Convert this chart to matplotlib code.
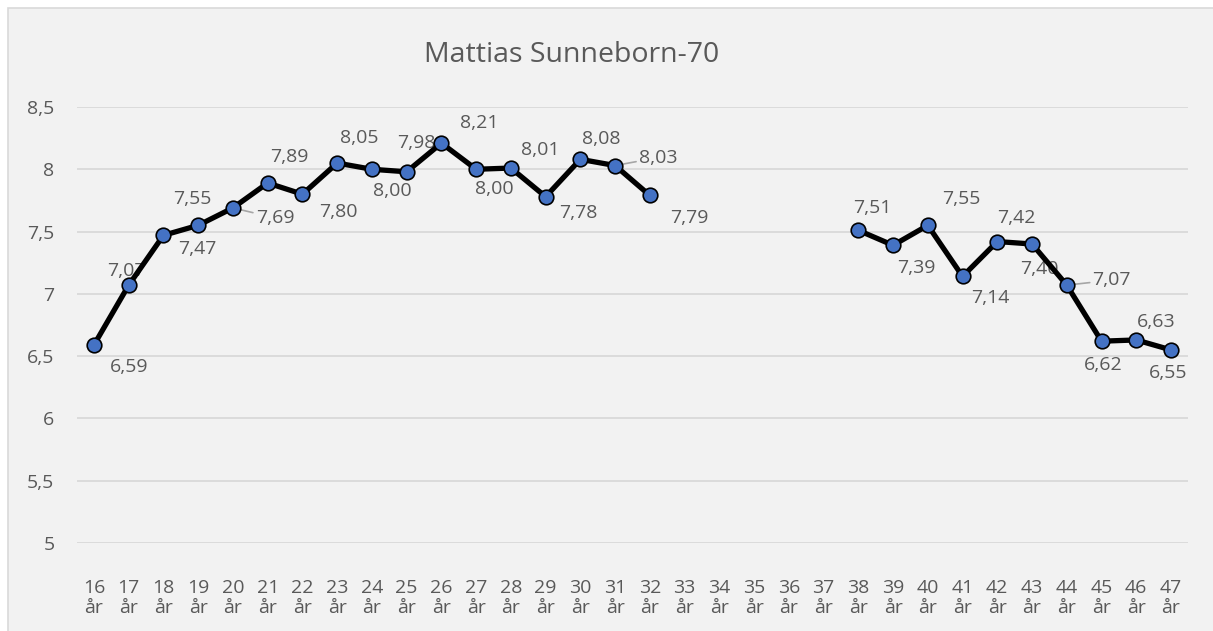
import numpy as np
import matplotlib.pyplot as plt
from matplotlib.patches import Rectangle

plt.rcParams['font.family'] = ['Open Sans', 'DejaVu Sans']

# data
ages = list(range(16, 48))
values = [6.59, 7.07, 7.47, 7.55, 7.69, 7.89, 7.80, 8.05, 8.00, 7.98, 8.21, 8.00, 8.01, 7.78, 8.08, 8.03, 7.79,
          None, None, None, None, None,
          7.51, 7.39, 7.55, 7.14, 7.42, 7.40, 7.07, 6.62, 6.63, 6.55]
tick_labels = [f"{a}\når" for a in ages]
yticks = [5, 5.5, 6, 6.5, 7, 7.5, 8, 8.5]
title = "Mattias Sunneborn-70"

# label offsets in pixels (dx, dy), None for missing points
label_offsets = [(35, -22), (-2, 14), (34, -14), (-6, 26), (42, -10), (22, 26), (36, -18), (22, 25),
                 (20, -22), (10, 29), (38, 20), (18, -20), (29, 18), (33, -16), (21, 20), (43, 8), (39, -23),
                 None, None, None, None, None,
                 (14, 22), (23, -23), (33, 26), (28, -22), (19, 24), (7, -25), (45, 5), (2, -24), (20, 18), (-3, -23)]
leaders = {20, 31, 44}

txt = '#595959'
fig = plt.figure(figsize=(12.13, 6.31), dpi=100, facecolor='white')
fig.patches.append(Rectangle((8 / 1213, -0.01), 1.0, 1 - 8 / 631 + 0.01, transform=fig.transFigure,
                             facecolor='#F2F2F2', edgecolor='#D9D9D9', lw=1.2, zorder=-1))

ax = fig.add_axes([76.6 / 1213, 1 - 543 / 631, 1111.8 / 1213, 436 / 631])
ax.set_facecolor('none')

x = np.arange(len(ages))
y = np.array([np.nan if v is None else v for v in values])
ax.plot(x, y, color='black', lw=3.8, marker='o', ms=10.5, mfc='#4472C4', mec='black', mew=1.2,
        zorder=3, solid_joinstyle='round')

for i, v in enumerate(values):
    if v is None:
        continue
    dx, dy = label_offsets[i]
    kw = {}
    if ages[i] in leaders:
        kw['arrowprops'] = dict(arrowstyle='-', color='#A6A6A6', lw=1.2, shrinkA=0, shrinkB=0)
    ax.annotate(f"{v:.2f}".replace('.', ','), (x[i], v), xytext=(dx, dy), textcoords='offset pixels',
                ha='center', va='center', fontsize=14, color=txt, zorder=1, **kw)

ax.set_xlim(-0.5, len(ages) - 0.5)
ax.set_ylim(5, 8.5)
ax.set_yticks(yticks)
ax.set_yticklabels([f"{t:g}".replace('.', ',') for t in yticks])
ax.set_xticks(x)
ax.set_xticklabels(tick_labels, linespacing=1.1)
ax.tick_params(axis='both', length=0, labelsize=14, labelcolor=txt)
ax.tick_params(axis='x', pad=26)
ax.tick_params(axis='y', pad=16)
ax.grid(axis='y', color='#D9D9D9', lw=1.3)
ax.set_axisbelow(True)
for s in ax.spines.values():
    s.set_visible(False)

fig.text(572 / 1213, 1 - 55 / 631, title, ha='center', va='center', fontsize=20.5, color=txt)

fig.savefig('out.png', dpi=100, facecolor='white')
